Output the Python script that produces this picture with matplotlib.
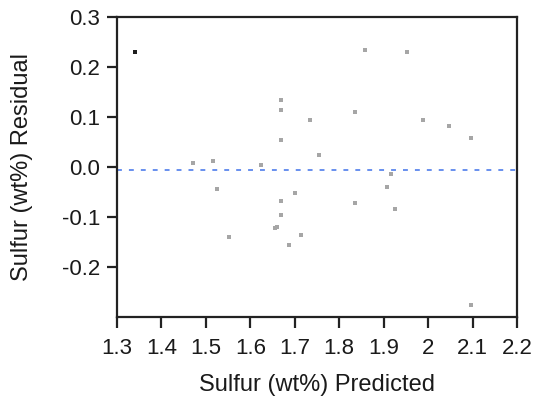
import matplotlib
matplotlib.use("Agg")
import matplotlib.pyplot as plt

plt.rcParams['font.family'] = ['Liberation Sans', 'DejaVu Sans']

# Predicted sulfur (wt%) and residuals
predicted = [1.341, 1.472, 1.517, 1.526, 1.553, 1.625, 1.656, 1.660, 1.670, 1.670,
             1.670, 1.670, 1.670, 1.688, 1.701, 1.715, 1.735, 1.754, 1.836, 1.836,
             1.859, 1.908, 1.917, 1.926, 1.952, 1.989, 2.048, 2.097, 2.097]
residual = [0.230, 0.009, 0.013, -0.043, -0.139, 0.005, -0.122, -0.119, 0.134, 0.114,
            0.054, -0.067, -0.095, -0.155, -0.051, -0.135, 0.094, 0.025, 0.110, -0.071,
            0.234, -0.039, -0.014, -0.083, 0.230, 0.094, 0.082, 0.058, -0.275]
highlighted = [True] + [False] * (len(predicted) - 1)

mean_line = -0.005
x_ticks = [1.3, 1.4, 1.5, 1.6, 1.7, 1.8, 1.9, 2.0, 2.1, 2.2]
x_tick_labels = ["1.3", "1.4", "1.5", "1.6", "1.7", "1.8", "1.9", "2", "2.1", "2.2"]
y_ticks = [-0.2, -0.1, 0.0, 0.1, 0.2, 0.3]
y_tick_labels = ["-0.2", "-0.1", "0.0", "0.1", "0.2", "0.3"]

fig = plt.figure(figsize=(5.39, 4.04), dpi=100)
ax = fig.add_axes([117 / 539, 1 - 317 / 404, 400 / 539, 300 / 404])

gx = [x for x, h in zip(predicted, highlighted) if not h]
gy = [y for y, h in zip(residual, highlighted) if not h]
bx = [x for x, h in zip(predicted, highlighted) if h]
by = [y for y, h in zip(residual, highlighted) if h]

ax.scatter(gx, gy, marker='s', s=11, color='#a6a6a6', linewidths=0, zorder=3)
ax.scatter(bx, by, marker='s', s=11, color='#1e1e1e', linewidths=0, zorder=4)

ax.axhline(mean_line, color='#3f72ea', linewidth=1.1, linestyle=(0, (3.2, 4.6)), zorder=2)

ax.set_xlim(1.3, 2.2)
ax.set_ylim(-0.3, 0.3)
ax.set_xticks(x_ticks)
ax.set_xticklabels(x_tick_labels)
ax.set_yticks(y_ticks)
ax.set_yticklabels(y_tick_labels)

for s in ax.spines.values():
    s.set_linewidth(1.6)
    s.set_color('#222222')

ax.tick_params(axis='both', direction='out', width=1.6, color='#222222',
               labelsize=16, labelcolor='#1a1a1a')
ax.tick_params(axis='x', length=8, pad=7)
ax.tick_params(axis='y', length=7, pad=5)

ax.set_xlabel("Sulfur (wt%) Predicted", fontsize=17, color='#1a1a1a')
ax.set_ylabel("Sulfur (wt%) Residual", fontsize=17, color='#1a1a1a')
ax.xaxis.set_label_coords(0.5, -0.19)
ax.yaxis.set_label_coords(-0.21, 0.5)

fig.savefig("out.png", dpi=100)
